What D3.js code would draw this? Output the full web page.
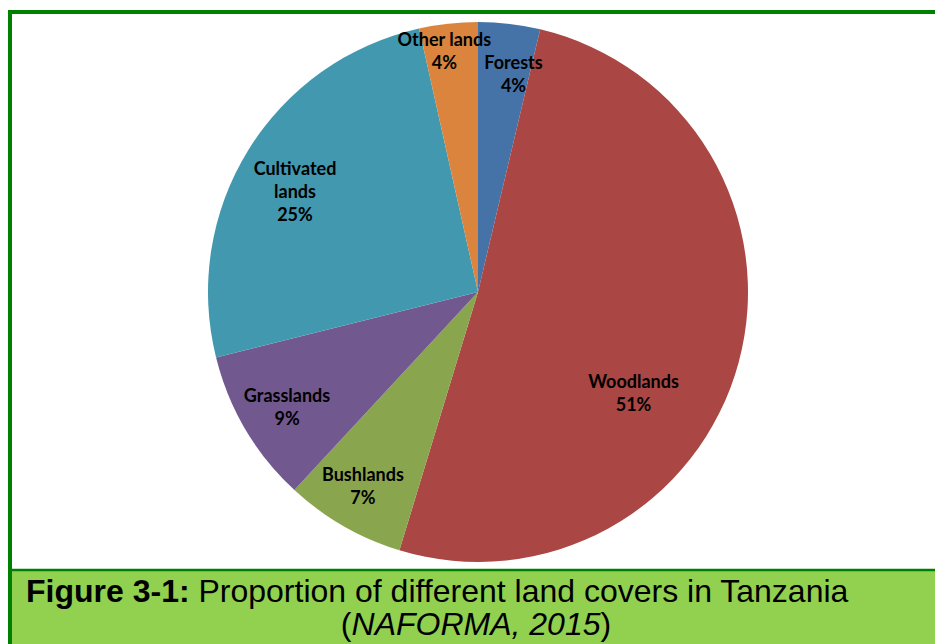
<!DOCTYPE html>
<html>
<head>
<meta charset="utf-8">
<script src="https://cdn.jsdelivr.net/npm/d3@7"></script>
<style>
  body { margin: 0; background: #fff; }
  svg { display: block; }
  .slice-label { font-family: Lato, "Open Sans", sans-serif; font-weight: bold; font-size: 18px; fill: #000; }
  .caption { font-family: "Liberation Sans", Arial, sans-serif; font-size: 32px; fill: #000; }
</style>
</head>
<body>
<div id="vis"></div>
<script>
// land cover shares (%), clockwise from 12 o'clock
const categories = ["Forests", "Woodlands", "Bushlands", "Grasslands", "Cultivated lands", "Other lands"];
const shares = [3.7, 51.0, 7.2, 9.2, 25.4, 3.5];
const labelLines = [["Forests"], ["Woodlands"], ["Bushlands"], ["Grasslands"], ["Cultivated", "lands"], ["Other lands"]];
const sliceColors = ["#4572A7", "#AA4643", "#89A54E", "#71588F", "#4198AF", "#DB843D"];

const width = 935, height = 644;
const cx = 478, cy = 292, radius = 270;

// label placement: radius along the bisector, plus a nudge (Excel "best fit")
const labelLayout = {
    "Forests": {r: 220, dx: 10, dy: 2},
    "Woodlands": {r: 187, dx: -25, dy: 54},
    "Bushlands": {r: 225, dx: -3, dy: 0},
    "Grasslands": {r: 223, dx: 1, dy: 3},
    "Cultivated lands": {r: 208, dx: -6, dy: 10},
    "Other lands": {r: 243, dx: -7, dy: 2}
};

const data = categories.map((c, i) => ({name: c, value: shares[i], lines: labelLines[i], color: sliceColors[i]}));

let svg = d3.select("#vis")
    .append("svg")
    .attr("width", width)
    .attr("height", height);

svg.append("rect")
    .attr("width", width)
    .attr("height", height)
    .attr("fill", "#fff");

////////// pie //////////

let pie = d3.pie()
    .value(d => d.value)
    .sort(null);

let arc = d3.arc()
    .innerRadius(0)
    .outerRadius(radius);

let arcs = pie(data);

let plot = svg.append("g")
    .attr("transform", "translate(" + cx + "," + cy + ")");

plot.selectAll("path")
    .data(arcs)
    .enter()
    .append("path")
    .attr("d", arc)
    .attr("fill", d => d.data.color);

let labels = plot.selectAll(".slice-label")
    .data(arcs)
    .enter()
    .append("text")
    .attr("class", "slice-label")
    .attr("text-anchor", "middle")
    .attr("transform", d => {
        let lay = labelLayout[d.data.name];
        let c = d3.arc().innerRadius(lay.r).outerRadius(lay.r).centroid(d);
        let n = d.data.lines.length + 1;
        let y0 = c[1] + lay.dy - (n - 1) * 23 / 2 + 5;
        return "translate(" + (c[0] + lay.dx) + "," + y0 + ")";
    });

labels.selectAll("tspan")
    .data(d => d.data.lines.concat([Math.round(d.data.value) + "%"]))
    .enter()
    .append("tspan")
    .attr("x", 0)
    .attr("dy", (d, i) => i === 0 ? 0 : 23)
    .text(d => d);

////////// frame and caption //////////

svg.append("rect")
    .attr("x", 0)
    .attr("y", 570)
    .attr("width", width)
    .attr("height", height - 570)
    .attr("fill", "#92D050");

svg.append("line")
    .attr("x1", 8).attr("x2", width)
    .attr("y1", 12).attr("y2", 12)
    .attr("stroke", "#008000").attr("stroke-width", 4);

svg.append("line")
    .attr("x1", 10).attr("x2", 10)
    .attr("y1", 10).attr("y2", height)
    .attr("stroke", "#008000").attr("stroke-width", 4);

svg.append("line")
    .attr("x1", 8).attr("x2", width)
    .attr("y1", 570).attr("y2", 570)
    .attr("stroke", "#008000").attr("stroke-width", 2.5);

svg.append("rect")
    .attr("x", 0).attr("y", 0)
    .attr("width", 8).attr("height", height)
    .attr("fill", "#fff");

let cap1 = svg.append("text")
    .attr("class", "caption")
    .attr("x", 26)
    .attr("y", 602);
cap1.append("tspan").attr("font-weight", "bold").text("Figure 3-1:");
cap1.append("tspan").text(" Proportion of different land covers in Tanzania");

let cap2 = svg.append("text")
    .attr("class", "caption")
    .attr("x", 476)
    .attr("y", 635)
    .attr("text-anchor", "middle");
cap2.append("tspan").text("(");
cap2.append("tspan").attr("font-style", "italic").text("NAFORMA, 2015");
cap2.append("tspan").text(")");
</script>
</body>
</html>
